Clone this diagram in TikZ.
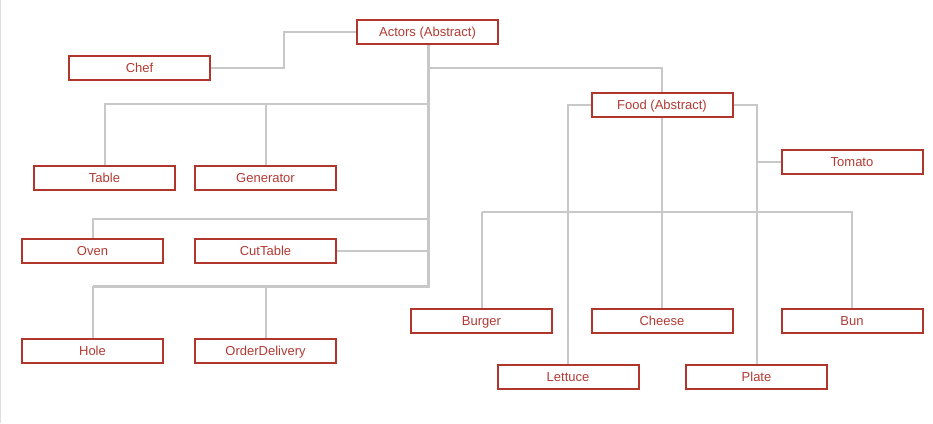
\documentclass[tikz,border=0pt]{standalone}
\usepackage{fontspec}
\setmainfont{Liberation Sans}
\definecolor{boxred}{HTML}{B0362C}
\definecolor{txtred}{HTML}{B23A33}
\definecolor{conn}{HTML}{C8C8C8}
\begin{document}
\begin{tikzpicture}[x=1pt,y=-1pt,
  cls/.style={draw=boxred,line width=2pt,fill=white,minimum width=141pt,minimum height=24pt,
    inner sep=0pt,text height=9.5pt,text depth=0pt,text=txtred,font=\fontsize{13}{15}\selectfont},
  link/.style={draw=conn,line width=2pt},
  trunk/.style={draw=conn,line width=3pt}]
\useasboundingbox (0,0) rectangle (933,423);
\draw[conn!60,line width=0.8pt] (0.5,0) -- (0.5,423);
\coordinate (tA) at (428,44);
\coordinate (tB) at (428,286);
\coordinate (tC) at (92.5,286);
\draw[trunk] (tA) -- (tB) -- (tC);
\node[cls] (actors) at (427.5,31.5) {Actors (Abstract)};
\node[cls] (chef) at (139.5,68) {Chef};
\node[cls] (food) at (662,104.5) {Food (Abstract)};
\node[cls] (tomato) at (852,161.5) {Tomato};
\node[cls] (table) at (104.5,178) {Table};
\node[cls] (generator) at (265.5,178) {Generator};
\node[cls] (oven) at (92.5,251) {Oven};
\node[cls] (cuttable) at (265.5,251) {CutTable};
\node[cls] (hole) at (92.5,351) {Hole};
\node[cls] (order) at (265.5,351) {OrderDelivery};
\node[cls] (burger) at (481.5,321) {Burger};
\node[cls] (cheese) at (662,321) {Cheese};
\node[cls] (bun) at (852,321) {Bun};
\node[cls] (lettuce) at (568,377) {Lettuce};
\node[cls] (plate) at (756.5,377) {Plate};
% Actors children
\path[link] (chef.east) -- (284,68) -- (284,31.5) -- (actors.west);
\path[link] (428,68) -| (food.north);
\path[link] (428,104) -| (table.north);
\path[link] (265.5,104) -- (generator.north);
\path[link] (428,219) -| (oven.north);
\path[link] (cuttable.east) -- (428,251);
\path[link] (tC) -- (hole.north);
\path[link] (265.5,286) -- (order.north);
% Food children
\path[link] (food.west) -| (lettuce.north);
\path[link] (food.east) -| (plate.north);
\path[link] (756.5,161.5) -- (tomato.west);
\path[link] (food.south) -- (cheese.north);
\path[link] (481.5,212) -- (burger.north);
\path[link] (481.5,212) -| (bun.north);
\end{tikzpicture}
\end{document}
